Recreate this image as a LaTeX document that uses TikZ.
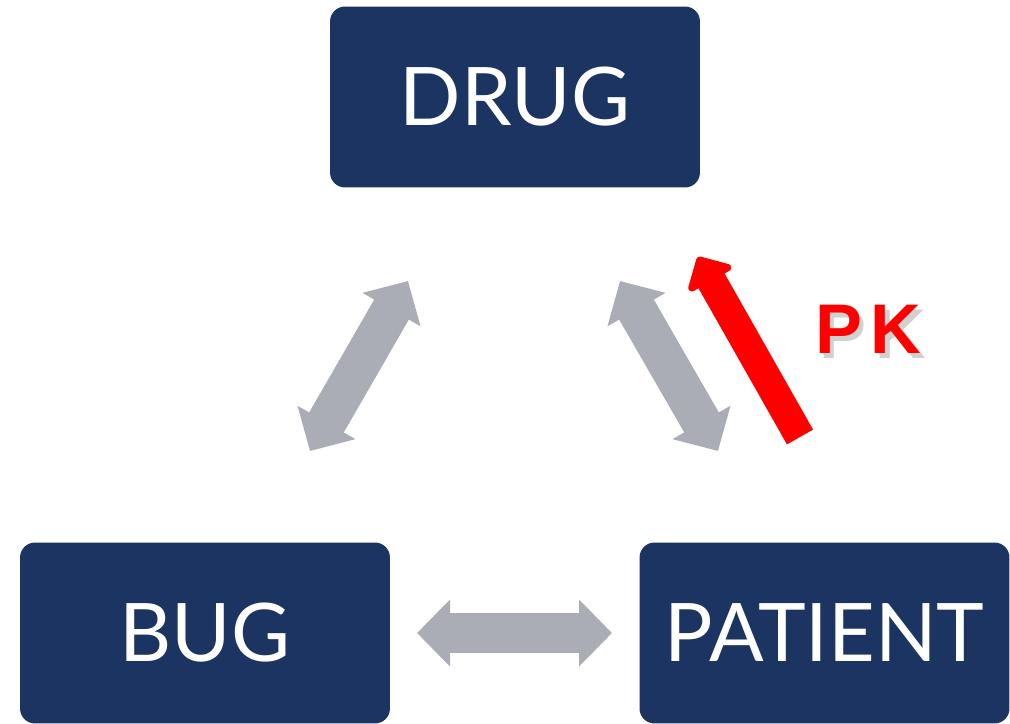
\documentclass[tikz,border=0pt]{standalone}
\usepackage{fontspec}
\setmainfont{Lato}
\newfontfamily\pkfont{Liberation Sans}
\usepackage{tikz}
\usetikzlibrary{arrows.meta}
\definecolor{boxblue}{RGB}{28,52,97}
\definecolor{arrowgray}{RGB}{171,173,182}
\tikzstyle{entity} = [rectangle, rounded corners=0.3cm, minimum width=7.4cm, minimum height=3.62cm, text centered, fill=boxblue, text=white, font=\fontsize{46}{50}\selectfont]
\tikzstyle{link} = [arrowgray, line width=0.8cm, {Triangle[length=0.66cm,width=1.3cm]}-{Triangle[length=0.66cm,width=1.3cm]}]
\tikzstyle{pkarrow} = [red, line width=0.6cm, -{Triangle[length=0.58cm,width=1.14cm,round]}]
\tikzstyle{pklabel} = [font=\pkfont\bfseries\fontsize{40}{42}\selectfont]

\begin{document}
\begin{tikzpicture}[x=0.02cm,y=-0.02cm]
\useasboundingbox (0,0) rectangle (1010,723);

\node(drug)[entity] at (515,97) {DRUG};
\node(bug)[entity] at (205,633) {BUG};
\node(patient)[entity] at (824.5,633) {PATIENT};

\coordinate (l1) at (310,451);
\coordinate (l2) at (408,281);
\coordinate (r1) at (620,281);
\coordinate (r2) at (718,451);
\coordinate (b1) at (417,633);
\coordinate (b2) at (612,633);
\coordinate (pk1) at (800,437);
\coordinate (pk2) at (698,257);

\draw [link] (l1) -- (l2);
\draw [link] (r1) -- (r2);
\draw [link] (b1) -- (b2);
\draw [pkarrow] (pk1) -- (pk2);

% PK label, soft shadow behind
\node(pkshadow)[pklabel, text=black!18] at (873,334) {P\kern5pt K};
\node(pk)[pklabel, text=red] at (868.5,329) {P\kern5pt K};
\end{tikzpicture}
\end{document}
